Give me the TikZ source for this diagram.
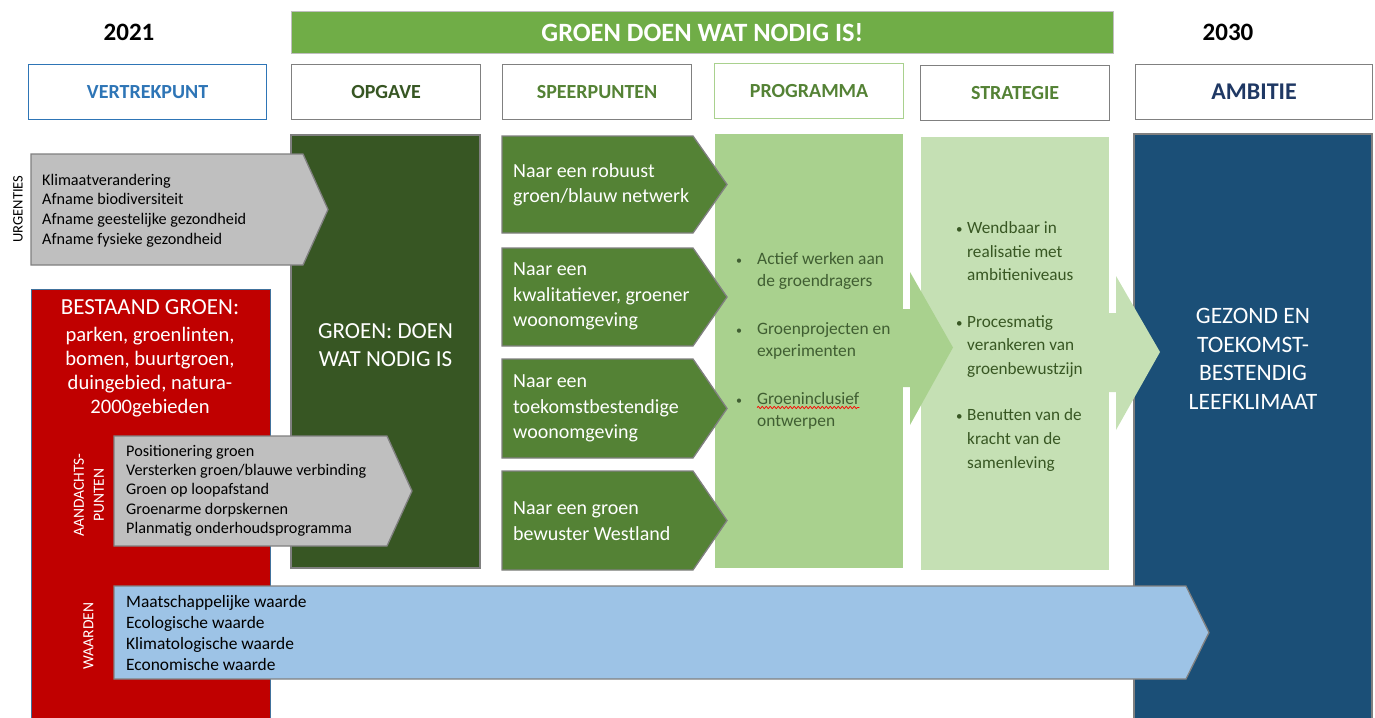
\documentclass[tikz,border=0pt]{standalone}
\usepackage{fontspec}
\setmainfont{Carlito}
\usetikzlibrary{positioning,decorations.pathmorphing}

\definecolor{titlegreen}{HTML}{70AD47}
\definecolor{darkgreen}{HTML}{375623}
\definecolor{midgreen}{HTML}{548235}
\definecolor{lightgreen}{HTML}{A9D18E}
\definecolor{palegreen}{HTML}{C5E0B4}
\definecolor{deepblue}{HTML}{1B4F77}
\definecolor{skyblue}{HTML}{9DC3E6}
\definecolor{shapegray}{HTML}{BFBFBF}
\definecolor{edgegray}{HTML}{808080}
\definecolor{redbox}{HTML}{C00000}
\definecolor{steel}{HTML}{41719C}
\definecolor{startblue}{HTML}{2E75B6}
\definecolor{navy}{HTML}{1F3864}
\definecolor{progtext}{HTML}{405E32}
\definecolor{strattext}{HTML}{385723}

\tikzset{
  hdr/.style={draw=edgegray, line width=1.2pt, anchor=north west, minimum width=189,
    minimum height=55, text=midgreen, font=\fontsize{20}{24}\selectfont\bfseries},
  year/.style={font=\fontsize{25}{30}\selectfont\bfseries},
  pointbox/.style={draw=edgegray, line width=1.3pt, fill=shapegray},
  sparrow/.style={draw=edgegray, line width=1.3pt, fill=midgreen},
  listtext/.style={anchor=west, align=left, inner sep=0pt, font=\fontsize{16.2}{19.6}\selectfont},
  sidelabel/.style={rotate=90, align=center, inner sep=0pt, font=\fontsize{15.5}{20}\selectfont},
  sptext/.style={anchor=west, align=left, inner sep=0pt, text=white, font=\fontsize{20}{25.5}\selectfont},
  bigtext/.style={text=white, align=center, inner sep=0pt, font=\fontsize{23}{28}\selectfont},
  progline/.style={anchor=base west, inner sep=0pt, text=progtext, font=\fontsize{17.4}{22}\selectfont},
  stratline/.style={anchor=base west, inner sep=0pt, text=strattext, font=\fontsize{17.2}{23}\selectfont},
  spell/.style={red, line width=0.7pt, decorate, decoration={snake, amplitude=1.1pt, segment length=4pt}},
}

\begin{document}
\begin{tikzpicture}[x=1pt, y=-1pt]
  \useasboundingbox (0,0) rectangle (1375,717);

  % top row
  \node (start) [year] at (129,32) {2021};
  \node (end) [year] at (1228,32) {2030};
  \node (title) [anchor=north west, fill=titlegreen, draw=black!25, line width=0.6pt,
    minimum width=822, minimum height=42, text=white,
    font=\fontsize{26.4}{30}\selectfont\bfseries] at (291,11) {GROEN DOEN WAT NODIG IS!};

  \node (vertrek) [hdr, draw=startblue, text=startblue, minimum width=238] at (28,64) {VERTREKPUNT};
  \node (opgave) [hdr, text=darkgreen] at (291,64) {OPGAVE};
  \node (speer) [hdr] at (502,64) {SPEERPUNTEN};
  \node (prog) [hdr, draw=lightgreen] at (714,63) {PROGRAMMA};
  \node (strat) [hdr] at (920,65) {STRATEGIE};
  \node (ambitie) [hdr, text=navy, minimum width=237, font=\fontsize{24}{28}\selectfont\bfseries] at (1135,64) {AMBITIE};

  % vertrekpunt
  \draw[steel, line width=0.8pt, fill=redbox] (31,289) rectangle (270,725);
  \node (bestaand) [text=white, align=center, inner sep=0pt, font=\fontsize{20.6}{24}\selectfont] at (150,358)
    {{\fontsize{23}{24}\selectfont BESTAAND GROEN:}\\[3pt]parken, groenlinten,\\bomen, buurtgroen,\\duingebied, natura-\\2000gebieden};

  % opgave
  \draw[edgegray, line width=1.3pt, fill=darkgreen] (291,135) rectangle (480,568);
  \node (opgtxt) [bigtext, font=\fontsize{23}{27.5}\selectfont] at (385.5,345) {GROEN: DOEN\\WAT NODIG IS};

  \draw[pointbox] (31,154) -- (303,154) -- (328,209.5) -- (303,265) -- (31,265) -- cycle;
  \node (urg) [listtext] at (42,210.5) {Klimaatverandering\\Afname biodiversiteit\\Afname geestelijke gezondheid\\Afname fysieke gezondheid};
  \node (urglbl) [sidelabel, font=\fontsize{14.5}{18}\selectfont] at (18,209) {URGENTIES};

  \draw[pointbox] (114,436) -- (387,436) -- (412,491) -- (387,546) -- (114,546) -- cycle;
  \node (aand) [listtext, font=\fontsize{16.2}{19.3}\selectfont] at (126,490.5) {Positionering groen\\Versterken groen/blauwe verbinding\\Groen op loopafstand\\Groenarme dorpskernen\\Planmatig onderhoudsprogramma};
  \node (aandlbl) [sidelabel, text=white] at (89,495) {AANDACHTS-\\PUNTEN};

  % speerpunten
  \fill[lightgreen] (715,134) rectangle (903,568);
  \foreach \t/\b in {136/233, 248/346, 359/458, 471/570}
    \draw[sparrow] (502,\t) -- (693,\t) -- (727,{(\t+\b)/2}) -- (693,\b) -- (502,\b) -- cycle;
  \node (sp1) [sptext] at (513,185) {Naar een robuust\\groen/blauw netwerk};
  \node (sp2) [sptext] at (513,296.5) {Naar een\\kwalitatiever, groener\\woonomgeving};
  \node (sp3) [sptext] at (513,408.5) {Naar een\\toekomstbestendige\\woonomgeving};
  \node (sp4) [sptext] at (513,521) {Naar een groen\\bewuster Westland};

  % programma
  \foreach \y/\txt in {264/Actief werken aan, 286/de groendragers, 334/Groenprojecten en,
      356/experimenten, 404/Groeninclusief, 426/ontwerpen}
    \node (pl\y) [progline] at (757,\y) {\txt};
  \foreach \y in {264,334,404}
    \node (pb\y) [progline, font=\fontsize{12}{14}\selectfont] at (736,\y) {\textbullet};
  \draw[spell] ([yshift=-3.5pt]pl404.base west) -- ([yshift=-3.5pt]pl404.base east);

  % strategie
  \fill[palegreen] (921,137) rectangle (1109,570);
  \fill[lightgreen] (900,309) -- (910,309) -- (910,272) -- (953,347.5) -- (910,425) -- (910,387) -- (900,387) -- cycle;
  \foreach \y/\txt in {233/Wendbaar in, 257/realisatie met, 280/ambitieniveaus, 327/Procesmatig,
      350/verankeren van, 374/groenbewustzijn, 420/Benutten van de, 444/kracht van de, 468/samenleving}
    \node (sl\y) [stratline] at (967,\y) {\txt};
  \foreach \y in {233,327,420}
    \node (sb\y) [stratline, font=\fontsize{13}{14}\selectfont] at (956,\y) {\textbullet};

  % ambitie
  \draw[edgegray, line width=1.3pt, fill=deepblue] (1134,134) rectangle (1372,725);
  \fill[palegreen] (1106,313) -- (1116,313) -- (1116,276) -- (1160,352) -- (1116,430) -- (1116,392) -- (1106,392) -- cycle;
  \node (ambtxt) [bigtext, font=\fontsize{23.5}{28.5}\selectfont] at (1253,359) {GEZOND EN\\TOEKOMST-\\BESTENDIG\\LEEFKLIMAAT};

  % waarden
  \draw[pointbox, fill=skyblue] (114,586) -- (1186,586) -- (1209,632.5) -- (1186,679) -- (114,679) -- cycle;
  \node (waard) [listtext, font=\fontsize{17.4}{20.7}\selectfont] at (126,633) {Maatschappelijke waarde\\Ecologische waarde\\Klimatologische waarde\\Economische waarde};
  \node (waardlbl) [sidelabel, text=white] at (88.5,636) {WAARDEN};
\end{tikzpicture}
\end{document}
